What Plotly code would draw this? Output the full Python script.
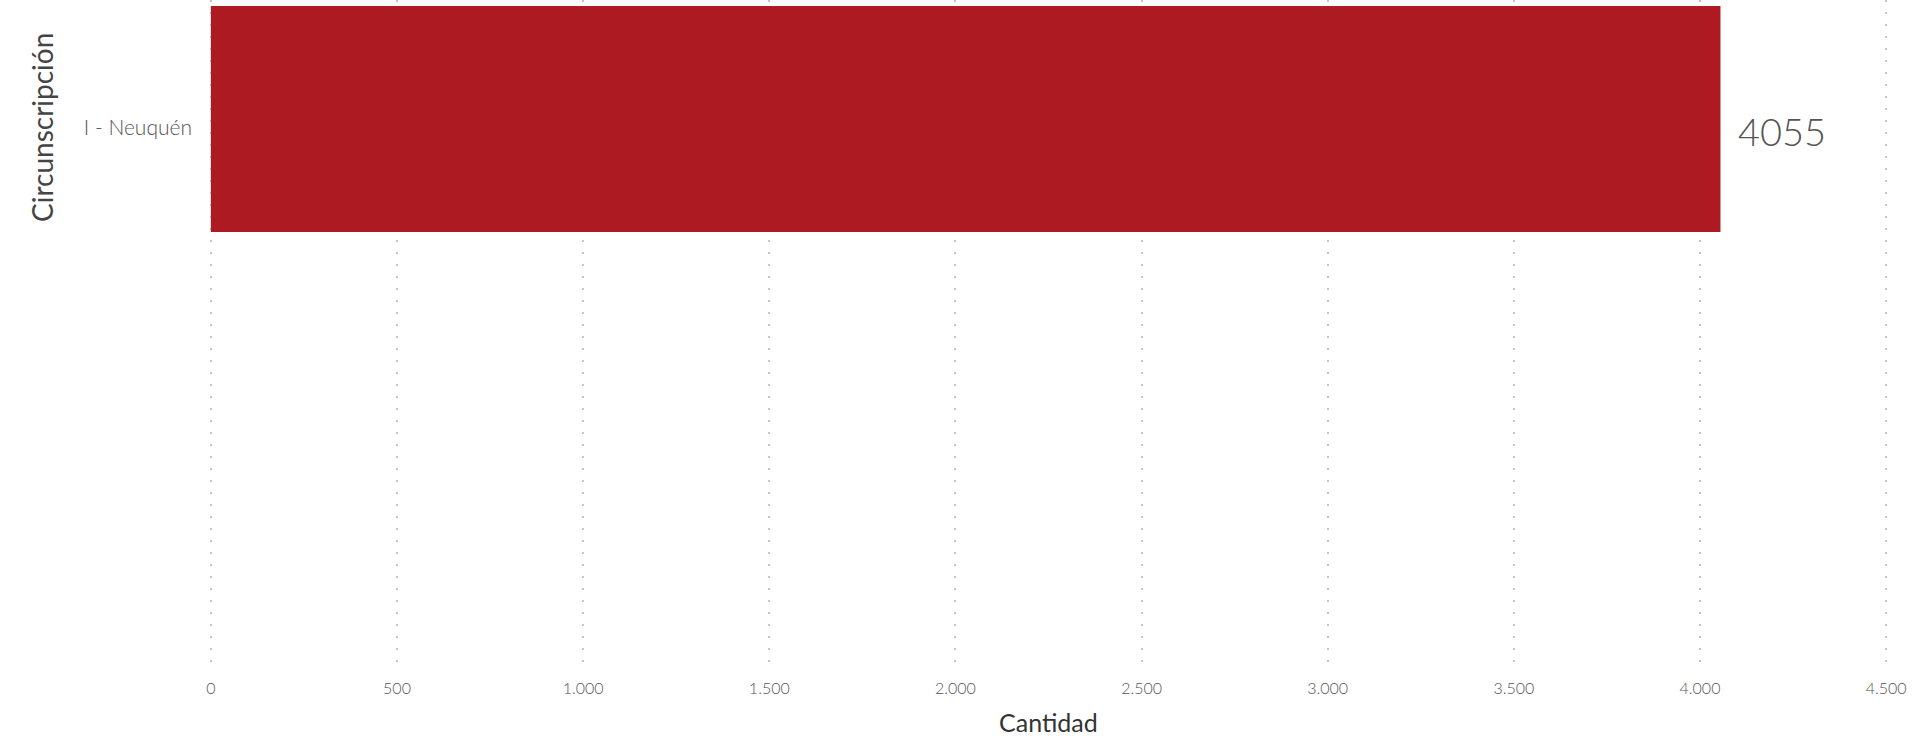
import plotly.graph_objects as go

categories = ["I - Neuquén"]
values = [4055]
x_ticks = [0, 500, 1000, 1500, 2000, 2500, 3000, 3500, 4000, 4500]

FONT = "Lato"
BAR_COLOR = "#AD1A22"

fig = go.Figure()
fig.add_trace(go.Bar(
    y=categories, x=values, orientation="h",
    marker=dict(color=BAR_COLOR, line=dict(width=0)),
    width=0.8, hoverinfo="x+y",
))

fig.add_annotation(
    x=values[0], y=categories[0], xref="x", yref="y",
    text=str(values[0]), showarrow=False, xanchor="left", yanchor="middle",
    xshift=16, yshift=-12,
    font=dict(family=FONT, size=38, color="#555555", weight=300),
)

fig.add_annotation(
    x=0, y=1 - 128 / 666, xref="paper", yref="paper",
    xanchor="center", yanchor="middle", xshift=-209 + 42,
    text="Circunscripción", textangle=-90, showarrow=False,
    font=dict(family=FONT, size=28, color="#444444", weight=400),
)
fig.add_annotation(
    x=0.5, y=-(722 - 666) / 666, xref="paper", yref="paper",
    xanchor="center", yanchor="middle",
    text="Cantidad", showarrow=False,
    font=dict(family=FONT, size=25, color="#333333", weight=400),
)

fig.update_layout(
    width=1920, height=736,
    margin=dict(l=209, r=32, t=0, b=70),
    paper_bgcolor="white", plot_bgcolor="white",
    separators=",.",
    showlegend=False,
    font=dict(family=FONT, color="#666666"),
    xaxis=dict(
        range=[-5, 4505], tickvals=x_ticks, tickformat=",d",
        showgrid=True, gridcolor="#C4C4C4", gridwidth=2, griddash="2px,10px",
        zeroline=False, showline=False, ticks="",
        tickfont=dict(family=FONT, size=16, color="#555555", weight=300),
        ticklabelstandoff=11, automargin=False,
    ),
    yaxis=dict(
        range=[1.937, -0.421], showgrid=False, zeroline=False, showline=False,
        ticks="", tickfont=dict(family=FONT, size=21, color="#555555", weight=300),
        ticklabelstandoff=16, ticklabelshift=-9, automargin=False,
    ),
)

fig.write_html(
    "out.html",
    config={"displayModeBar": False},
    post_script="document.body.style.margin='0';document.body.style.overflow='hidden';",
)
